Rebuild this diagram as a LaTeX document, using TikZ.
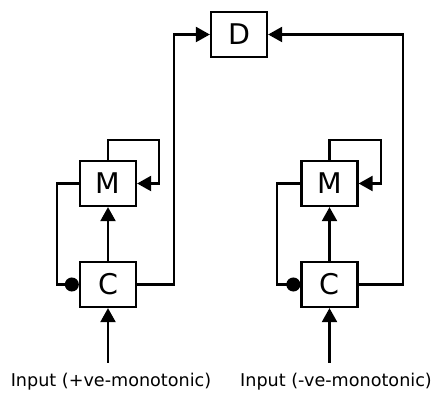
\documentclass[tikz,border=0pt]{standalone}
\usepackage{fontspec}
\setmainfont{DejaVu Sans}
\usetikzlibrary{arrows.meta}
\begin{document}
\begin{tikzpicture}[x=1pt,y=-1pt,
  box/.style={draw, line width=2.3pt, minimum width=56pt, minimum height=45pt, inner sep=0pt, font=\fontsize{28.5}{30}\selectfont},
  conn/.style={line width=2.3pt},
  arr/.style={conn, -{Triangle[length=14pt,width=15pt]}},
  dotted end/.style={conn, -{Circle[length=14pt]}},
  lbl/.style={font=\fontsize{17.6}{20}\selectfont, anchor=base, inner sep=0pt}]
\useasboundingbox (0,0) rectangle (432,393);
\node[box] (D) at (239,34.5) {D};
% left
\node[box] (M1) at (108,183.5) {M};
\node[box] (C1) at (108,284.5) {C};
\coordinate (in1) at (108,363);
\node[lbl] (t1) at (111,387) {Input (+ve-monotonic)};
\draw[arr] (in1) -- (C1.south);
\draw[arr] (C1.north) -- (M1.south);
\draw[arr] (M1.north) |- (159,140) |- (M1.east);
\draw[dotted end] (M1.west) -- ++(-22,0) |- (C1.west);
\draw[arr] (C1.east) -- ++(37,0) |- (D.west);
% right
\node[box] (M2) at (329.5,183.5) {M};
\node[box] (C2) at (329.5,284.5) {C};
\coordinate (in2) at (329.5,363);
\node[lbl] (t2) at (336,387) {Input (-ve-monotonic)};
\draw[arr] (in2) -- (C2.south);
\draw[arr] (C2.north) -- (M2.south);
\draw[arr] (M2.north) |- (381,140) |- (M2.east);
\draw[dotted end] (M2.west) -- ++(-23.5,0) |- (C2.west);
\draw[arr] (C2.east) -- ++(44.5,0) |- (D.east);
\end{tikzpicture}
\end{document}
